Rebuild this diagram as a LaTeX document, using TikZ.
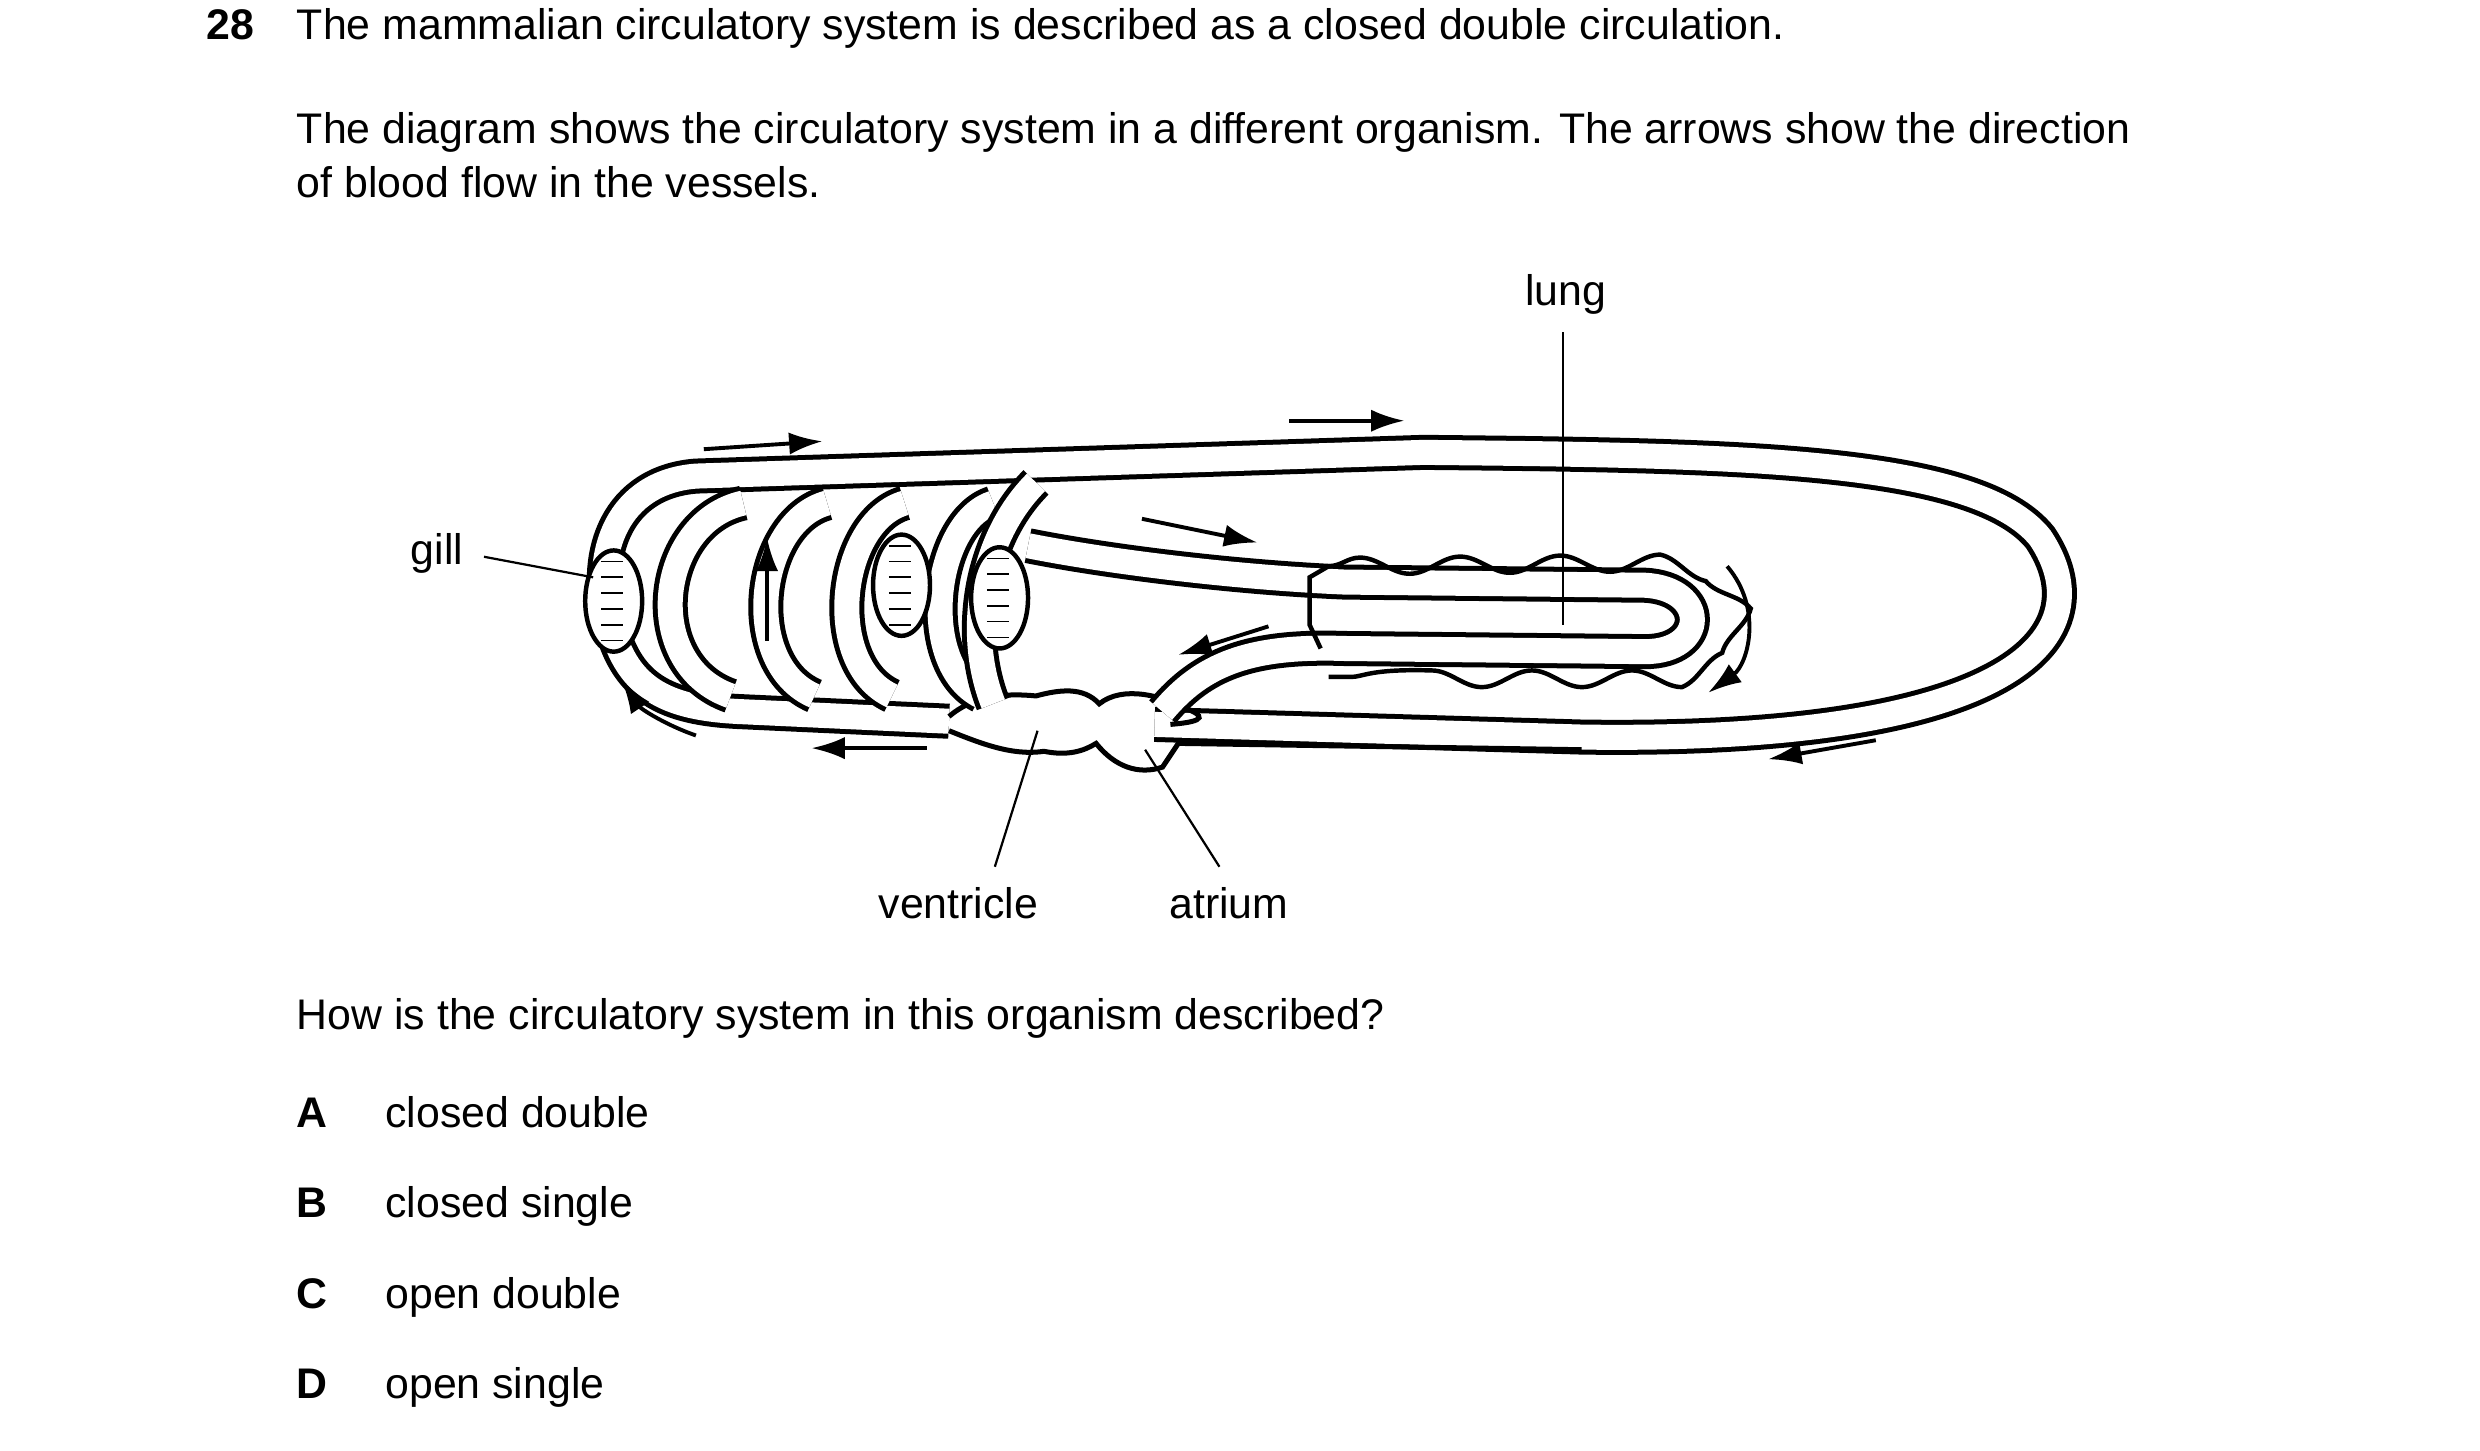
\documentclass[tikz,border=0pt]{standalone}
\usepackage{fontspec}
\setmainfont{Liberation Sans}
\usetikzlibrary{arrows.meta,decorations.pathmorphing}
\begin{document}
\begin{tikzpicture}[x=0.01cm, y=-0.01cm, font=\fontsize{7.7}{9.3}\selectfont]
\tikzset{vessel/.style = {
            line width=0.9pt,
            double=white,
            double distance=4.5pt
        }
}
\tikzset{flow/.style = {
            line width=0.7pt,
            -{Latex[length=6pt,width=4pt]}
        }
}
\tikzset{pointer/.style = {
            line width=0.4pt
        }
}
\tikzset{txt/.style = {
            anchor=base west,
            inner sep=0pt
        }
}
\useasboundingbox (0,0) rectangle (1568,917);

% question text
\node[txt, font=\fontsize{7.7}{9.3}\bfseries] (qnum) at (130,25) {28};
\node[txt] (q1) at (187,25) {The mammalian circulatory system is described as a closed double circulation.};
\node[txt] (q2) at (187,91) {The diagram shows the circulatory system in a different organism. The arrows show the direction};
\node[txt] (q3) at (187,125) {of blood flow in the vessels.};
\node[txt] (q4) at (187,651) {How is the circulatory system in this organism described?};
\foreach \letter / \ans / \y in
    {A/closed double/713,
        B/closed single/770,
        C/open double/827,
        D/open single/884}
{
    \node[txt, font=\fontsize{7.7}{9.3}\bfseries] (opt-\letter) at (187,\y) {\letter};
    \node[txt] (ans-\letter) at (243,\y) {\ans};
}

% systemic loop
\draw[vessel] (730,458) -- (1000,466) .. controls (1280,470) and (1330,400) .. (1290,340)
    .. controls (1250,290) and (1100,288) .. (900,286) -- (440,301)
    .. controls (390,305) and (375,350) .. (385,390)
    .. controls (395,435) and (420,448) .. (470,450) -- (600,456);

% heart
\draw[line width=0.9pt] (600,453) .. controls (615,440) and (635,438) .. (655,440)
    .. controls (670,436) and (685,434) .. (695,445) .. controls (710,433) and (735,440) .. (750,448)
    .. controls (760,452) and (765,456) .. (740,458);
\draw[line width=0.9pt] (600,462) .. controls (620,470) and (640,478) .. (660,475)
    .. controls (675,478) and (685,475) .. (693,470) .. controls (705,485) and (720,490) .. (735,485)
    -- (745,470) -- (1000,474);

% gill arches
\foreach \x / \w in {415/55, 478/45, 530/42, 590/38}
{
    \draw[vessel] (\x+\w,318) .. controls (\x,330) and (\x-10,420) .. (\x+\w-8,440);
}
\draw[vessel] (655,305) .. controls (620,340) and (610,400) .. (628,445);

% gills
\foreach \x / \y in {388/380, 570/370, 632/378}
{
    \draw[line width=0.8pt, fill=white] (\x,\y) ellipse [x radius=18, y radius=32];
    \foreach \t in {-25,-15,...,25}
        \draw[line width=0.3pt] (\x-8,\y+\t) -- (\x+6,\y+\t);
}

% pulmonary loop
\draw[vessel] (650,345) .. controls (700,355) and (780,365) .. (850,368)
    -- (1040,370) .. controls (1080,372) and (1080,412) .. (1040,412)
    -- (850,410) .. controls (790,408) and (760,420) .. (735,450);

% lung
\draw[line width=0.8pt, decorate, decoration={snake, amplitude=1.5, segment length=18}]
    (840,358) -- (1040,356) .. controls (1100,360) and (1100,430) .. (1040,428) -- (840,428);
\draw[line width=0.8pt] (840,358) -- (828,365) -- (828,395) -- (835,410);

% flow arrows
\draw[flow] (445,284) -- (520,279);
\draw[flow] (815,266) -- (888,266);
\draw[flow] (722,328) -- (795,343);
\draw[flow] (802,396) -- (745,414);
\draw[flow] (485,405) -- (485,340);
\draw[flow] (440,465) .. controls (420,458) and (405,448) .. (393,430);
\draw[flow] (586,473) -- (513,473);
\draw[flow] (1186,468) -- (1118,480);
\draw[flow] (1092,358) .. controls (1115,385) and (1105,420) .. (1080,438);

% labels
\node[txt] (gill) at (259,357) {gill};
\coordinate (gill-end) at (375,365);
\draw[pointer] (306,352) -- (gill-end);
\node[anchor=base, inner sep=0pt] (lung) at (990,193) {lung};
\coordinate (lung-end) at (988,395);
\draw[pointer] (988,210) -- (lung-end);
\node[anchor=base, inner sep=0pt] (ventricle) at (606,581) {ventricle};
\coordinate (ventricle-end) at (656,462);
\draw[pointer] (629,548) -- (ventricle-end);
\node[anchor=base, inner sep=0pt] (atrium) at (777,581) {atrium};
\coordinate (atrium-end) at (724,474);
\draw[pointer] (771,548) -- (atrium-end);
\end{tikzpicture}
\end{document}
